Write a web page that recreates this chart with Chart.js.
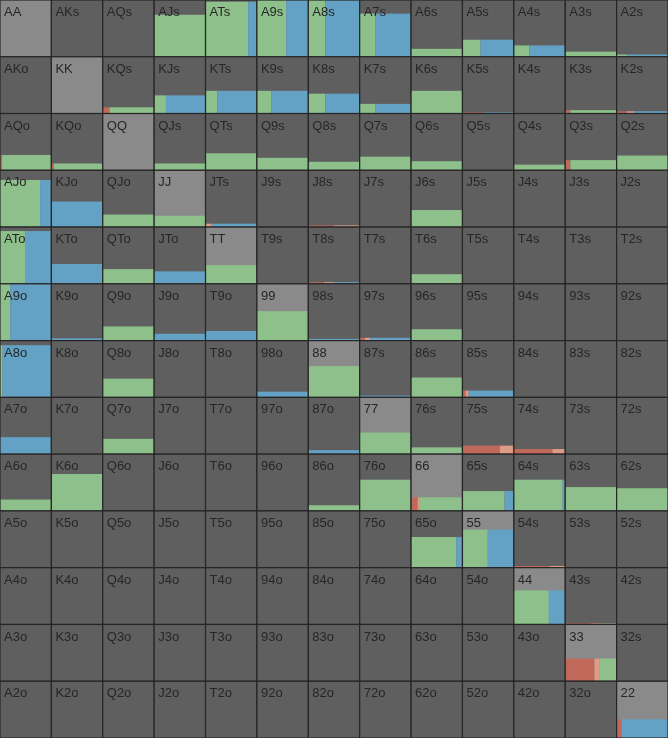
<!DOCTYPE html>
<html>
<head>
<meta charset="utf-8">
<script src="https://cdn.jsdelivr.net/npm/chart.js@4"></script>
<style>
  html, body { margin: 0; padding: 0; background: #2b2b2b; }
  canvas { display: block; }
</style>
</head>
<body>
<canvas id="grid" width="668" height="738"></canvas>
<script>
const ranks = ["A", "K", "Q", "J", "T", "9", "8", "7", "6", "5", "4", "3", "2"];

// each cell: [fill height, red, salmon, green, blue] (widths are shares of the cell), 0 = empty
const rowA = [0, 0, 0, [0.74,0,0,1,0], [0.97,0,0,0.83,0.17], [1,0,0,0.57,0.43], [1,0,0,0.33,0.67], [0.76,0,0,0.3,0.7], [0.14,0,0,1,0], [0.3,0,0,0.35,0.65], [0.2,0,0,0.3,0.7], [0.09,0,0,1,0], [0.04,0,0,0.2,0.8]];
const rowK = [0, 0, [0.11,0.13,0,0.87,0], [0.32,0,0,0.23,0.77], [0.4,0,0,0.23,0.77], [0.4,0,0,0.28,0.72], [0.35,0,0,0.33,0.67], [0.17,0,0,0.3,0.7], [0.4,0,0,1,0], [0.02,0.4,0,0,0.6], 0, [0.06,0.1,0,0.9,0], [0.04,0.2,0.15,0,0.65]];
const rowQ = [[0.27,0.04,0,0.96,0], [0.12,0.05,0,0.95,0], 0, [0.12,0,0,1,0], [0.3,0,0,1,0], [0.22,0,0,1,0], [0.15,0,0,1,0], [0.24,0,0,1,0], [0.16,0,0,1,0], 0, [0.1,0,0,1,0], [0.18,0.1,0,0.9,0], [0.26,0,0,1,0]];
const rowJ = [[0.83,0,0,0.78,0.22], [0.45,0,0,0,1], [0.22,0,0,1,0], [0.2,0,0,1,0], [0.06,0,0.12,0,0.88], 0, [0.03,0.5,0.5,0,0], 0, [0.3,0,0,1,0], 0, 0, 0, 0];
const rowT = [[0.93,0,0,0.5,0.5], [0.35,0,0,0,1], [0.26,0,0,1,0], [0.22,0,0,0,1], [0.33,0,0,1,0], 0, [0.03,0.3,0.2,0,0.5], 0, [0.17,0,0,1,0], 0, 0, 0, 0];
const row9 = [[1,0,0,0.2,0.8], [0.04,0,0,0,1], [0.25,0,0,1,0], [0.12,0,0,0,1], [0.17,0,0,0,1], [0.52,0,0,1,0], [0.03,0,0,0,1], [0.05,0.1,0.1,0,0.8], [0.2,0,0,1,0], 0, 0, 0, 0];
const row8 = [[0.92,0,0,0.05,0.95], 0, [0.33,0,0,1,0], 0, 0, [0.1,0,0,0,1], [0.55,0,0,1,0], [0.03,0,0,0,1], [0.35,0,0,1,0], [0.12,0.06,0.06,0,0.88], 0, 0, 0];
const row7 = [[0.3,0,0,0,1], 0, [0.27,0,0,1,0], 0, 0, 0, [0.07,0,0,0,1], [0.38,0,0,1,0], [0.12,0,0,1,0], [0.15,0,0.27,0,0], [0.09,0.75,0.25,0,0], 0, 0];
row7[9][1] = 0.73;
const row6 = [[0.2,0,0,1,0], [0.65,0,0,1,0], 0, 0, 0, 0, [0.1,0,0,1,0], [0.55,0,0,1,0], [0.24,0.13,0.03,0.84,0], [0.35,0,0,0.82,0.18], [0.55,0,0,0.95,0.05], [0.42,0,0,1,0], [0.4,0,0,1,0]];
const row5 = [0, 0, 0, 0, 0, 0, 0, 0, [0.54,0,0,0.88,0.12], [0.67,0,0,0.49,0.51], [0.03,0.7,0.3,0,0], 0, 0];
const row4 = [0, 0, 0, 0, 0, 0, 0, 0, 0, 0, [0.6,0,0,0.68,0.32], [0.02,0.5,0.2,0.3,0], 0];
const row3 = [0, 0, 0, 0, 0, 0, 0, 0, 0, 0, 0, [0.4,0.57,0.1,0.33,0], 0];
const row2 = [0, 0, 0, 0, 0, 0, 0, 0, 0, 0, 0, 0, [0.33,0.1,0,0,0.9]];
const rows = [rowA, rowK, rowQ, rowJ, rowT, row9, row8, row7, row6, row5, row4, row3, row2];

const segColors = ["#c0685a", "#de9c86", "#8dc08a", "#64a2c5"];

function handName(r, c) {
  if (r === c) return ranks[r] + ranks[c];
  if (c > r) return ranks[r] + ranks[c] + "s";
  return ranks[c] + ranks[r] + "o";
}

const gridPlugin = {
  id: "rangeGrid",
  beforeDatasetsDraw(chart) {
    const { ctx, scales: { x, y } } = chart;
    for (let r = 0; r < 13; r++) {
      for (let c = 0; c < 13; c++) {
        const x0 = x.getPixelForValue(c), x1 = x.getPixelForValue(c + 1);
        const y0 = y.getPixelForValue(r), y1 = y.getPixelForValue(r + 1);
        const w = x1 - x0, h = y1 - y0;
        ctx.fillStyle = r === c ? "#8a8a8a" : "#5f5f5f";
        ctx.fillRect(x0, y0, w, h);
        const cell = rows[r][c];
        if (cell) {
          const fh = cell[0] * h;
          let cx = x0;
          for (let k = 0; k < 4; k++) {
            const sw = cell[k + 1] * w;
            if (sw > 0) {
              ctx.fillStyle = segColors[k];
              ctx.fillRect(cx, y1 - fh, sw, fh);
              cx += sw;
            }
          }
        }
        ctx.strokeStyle = "#262626";
        ctx.lineWidth = 1.2;
        ctx.strokeRect(x0, y0, w, h);
        ctx.fillStyle = "#262626";
        ctx.font = "13px 'Liberation Sans', Arial, sans-serif";
        ctx.textBaseline = "top";
        ctx.fillText(handName(r, c), x0 + 4, y0 + 6);
      }
    }
  }
};

new Chart(document.getElementById("grid"), {
  type: "scatter",
  data: { datasets: [{ data: [] }] },
  options: {
    responsive: false,
    animation: false,
    layout: { padding: 0 },
    plugins: { legend: { display: false }, tooltip: { enabled: false } },
    scales: {
      x: { type: "linear", min: 0, max: 13, display: false },
      y: { type: "linear", min: 0, max: 13, reverse: true, display: false }
    }
  },
  plugins: [gridPlugin]
});
</script>
</body>
</html>
